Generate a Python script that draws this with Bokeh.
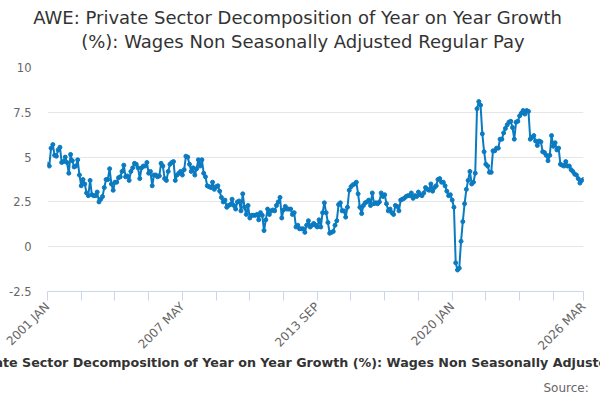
import pandas as pd
from math import pi
from bokeh.plotting import figure
from bokeh.models import ColumnDataSource, FixedTicker, Title, Range1d
from bokeh.embed import file_html
from bokeh.resources import INLINE

title_line1 = "AWE: Private Sector Decomposition of Year on Year Growth"
title_line2 = "(%): Wages Non Seasonally Adjusted Regular Pay"
series_name = "AWE: Private Sector Decomposition of Year on Year Growth (%): Wages Non Seasonally Adjusted Regular Pay"
source_text = "Source: "

start_month = "2001-01"
end_month = "2026-03"

# Year on year growth (%) by month, Jan 2001 .. Mar 2026
v2001 = [4.6, 4.5, 5.5, 5.7, 5.1, 5.05, 5.4, 5.55, 4.7, 4.75, 5.0, 4.7]
v2002 = [4.1, 5.15, 4.8, 4.45, 4.5, 4.85, 4.0, 3.4, 3.75, 3.5, 3.0, 2.85]
v2003 = [3.7, 2.9, 2.85, 2.85, 3.05, 2.5, 2.65, 2.8, 3.3, 3.75, 3.75, 4.35]
v2004 = [3.5, 3.15, 3.6, 3.6, 3.85, 3.9, 4.2, 4.55, 3.9, 3.95, 3.7, 4.2]
v2005 = [4.4, 4.65, 4.6, 4.4, 3.8, 4.4, 4.5, 4.5, 4.7, 4.1, 4.2, 3.4]
v2006 = [4.0, 4.0, 3.9, 3.95, 4.65, 4.5, 3.8, 3.7, 4.2, 4.6, 4.7, 4.75]
v2007 = [3.7, 4.0, 4.1, 4.2, 4.0, 4.3, 5.05, 5.0, 4.6, 4.2, 4.4, 4.0]
v2008 = [4.35, 4.85, 4.5, 4.85, 4.1, 3.9, 3.4, 3.35, 3.3, 3.6, 3.2, 3.35]
v2009 = [3.4, 3.1, 2.75, 2.5, 2.6, 2.2, 2.3, 2.35, 2.65, 2.3, 2.1, 2.5]
v2010 = [2.55, 2.0, 2.95, 2.2, 1.8, 2.3, 1.6, 1.75, 1.75, 1.75, 1.8, 1.5]
v2011 = [1.9, 1.75, 0.9, 1.5, 2.1, 1.8, 2.0, 2.05, 2.0, 2.3, 2.5, 2.75]
v2012 = [1.6, 2.05, 2.25, 2.1, 2.1, 2.1, 1.8, 1.9, 1.1, 1.2, 1.0, 1.0]
v2013 = [1.0, 0.8, 1.2, 1.45, 1.1, 1.2, 1.3, 1.2, 1.1, 1.5, 1.1, 1.9]
v2014 = [2.45, 1.9, 1.35, 0.75, 0.8, 0.85, 1.2, 1.45, 2.35, 2.45, 2.0, 2.0]
v2015 = [1.65, 2.2, 3.15, 3.35, 3.45, 3.5, 3.6, 2.95, 2.2, 1.85, 2.3, 2.45]
v2016 = [2.5, 2.6, 2.3, 3.0, 2.4, 2.45, 2.4, 2.5, 3.0, 2.8, 2.9, 2.4]
v2017 = [2.0, 2.1, 1.9, 1.8, 2.3, 2.25, 2.0, 2.6, 2.65, 2.7, 2.8, 2.85]
v2018 = [2.85, 3.0, 2.7, 2.85, 2.8, 3.05, 2.9, 2.85, 3.0, 3.3, 3.2, 3.15]
v2019 = [3.5, 3.1, 3.3, 3.4, 3.75, 3.8, 3.6, 3.6, 3.4, 3.1, 2.85, 2.9]
v2020 = [2.6, 2.2, -0.9, -1.3, -1.2, 0.3, 1.4, 2.4, 3.2, 3.7, 4.2, 3.5]
v2021 = [3.6, 4.1, 7.7, 8.1, 7.9, 6.3, 5.3, 4.6, 4.5, 4.15, 4.15, 5.35]
v2022 = [5.35, 5.5, 5.5, 6.0, 6.0, 6.35, 6.6, 6.8, 6.95, 7.0, 6.65, 6.0]
v2023 = [6.95, 7.0, 7.3, 7.45, 7.6, 7.4, 7.6, 7.55, 6.0, 6.1, 6.2, 5.9]
v2024 = [5.65, 5.9, 5.85, 5.3, 5.25, 5.1, 4.8, 5.1, 6.2, 5.6, 5.8, 5.4]
v2025 = [5.5, 4.6, 4.55, 4.5, 4.75, 4.5, 4.5, 4.3, 4.2, 4.05, 4.0, 3.8]
v2026 = [3.55, 3.7, 3.75]

values = (v2001 + v2002 + v2003 + v2004 + v2005 + v2006 + v2007 + v2008 + v2009
          + v2010 + v2011 + v2012 + v2013 + v2014 + v2015 + v2016 + v2017 + v2018
          + v2019 + v2020 + v2021 + v2022 + v2023 + v2024 + v2025 + v2026)

months = pd.period_range(start_month, end_month, freq="M")
month_labels = [f"{m.year} {m.strftime('%b').upper()}" for m in months]
idx = list(range(len(months)))
assert len(values) == len(months)

y_ticks = [-2.5, 0, 2.5, 5, 7.5, 10]
y_tick_labels = ["-2.5", "0", "2.5", "5", "7.5", "10"]
label_step = 76
tick_step = 19

x_ticks = list(range(0, len(idx) - 1, tick_step)) + [len(idx) - 1]
labeled = set(range(0, len(idx), label_step)) | {len(idx) - 1}
x_overrides = {t: (month_labels[t] if t in labeled else "") for t in x_ticks}

src = ColumnDataSource(dict(x=idx, y=values, label=month_labels))

p = figure(width=600, height=400, output_backend="svg", toolbar_location=None,
           x_range=Range1d(0, len(idx) - 1), y_range=Range1d(-2.5, 10),
           min_border_left=47, min_border_right=17, min_border_top=67, min_border_bottom=108)
p.title = None

FONT = "DejaVu Sans"
p.add_layout(Title(text=title_line2, align="left", text_font=FONT, text_font_size="18px",
                   text_color="#333333", text_font_style="normal", standoff=32, offset=33.7), "above")
p.add_layout(Title(text=title_line1, align="left", text_font=FONT, text_font_size="18px",
                   text_color="#333333", text_font_style="normal", standoff=-30, offset=-14.3), "above")
p.add_layout(Title(text=source_text, align="right", text_font=FONT, text_font_size="12px",
                   text_color="#666666", text_font_style="normal", standoff=12, offset=-9), "below")

p.line("x", "y", source=src, line_color="#0b7bc1", line_width=2)
p.scatter("x", "y", source=src, size=4, fill_color="#0b7bc1", line_color="#0b7bc1")

p.outline_line_color = None
p.background_fill_color = "white"
p.border_fill_color = "white"

p.xgrid.grid_line_color = None
p.ygrid.grid_line_color = "#e6e6e6"
p.ygrid.ticker = FixedTicker(ticks=y_ticks)

p.yaxis.ticker = FixedTicker(ticks=y_ticks)
p.yaxis.major_label_overrides = dict(zip(y_ticks, y_tick_labels))
p.yaxis.axis_line_color = None
p.yaxis.major_tick_line_color = None
p.yaxis.major_tick_out = 0
p.yaxis.major_tick_in = 0
p.yaxis.minor_tick_line_color = None
p.yaxis.minor_tick_out = 0
p.yaxis.major_label_standoff = 16
p.yaxis.major_label_text_font = FONT
p.yaxis.major_label_text_font_size = "11.5px"
p.yaxis.major_label_text_color = "#666666"

p.xaxis.ticker = FixedTicker(ticks=x_ticks)
p.xaxis.major_label_overrides = x_overrides
p.xaxis.major_label_orientation = pi / 4
p.xaxis.axis_line_color = "#ccd6eb"
p.xaxis.major_tick_line_color = "#ccd6eb"
p.xaxis.major_tick_in = 0
p.xaxis.major_tick_out = 9
p.xaxis.minor_tick_line_color = None
p.xaxis.minor_tick_out = 0
p.xaxis.major_label_standoff = 4
p.xaxis.major_label_text_font = FONT
p.xaxis.major_label_text_font_size = "12px"
p.xaxis.major_label_text_color = "#666666"
p.xaxis.axis_label = series_name
p.xaxis.axis_label_text_font = FONT
p.xaxis.axis_label_text_font_size = "12.7px"
p.xaxis.axis_label_text_font_style = "bold"
p.xaxis.axis_label_text_color = "#333333"
p.xaxis.axis_label_standoff = -6

open("out.html", "w").write(file_html(p, INLINE))
